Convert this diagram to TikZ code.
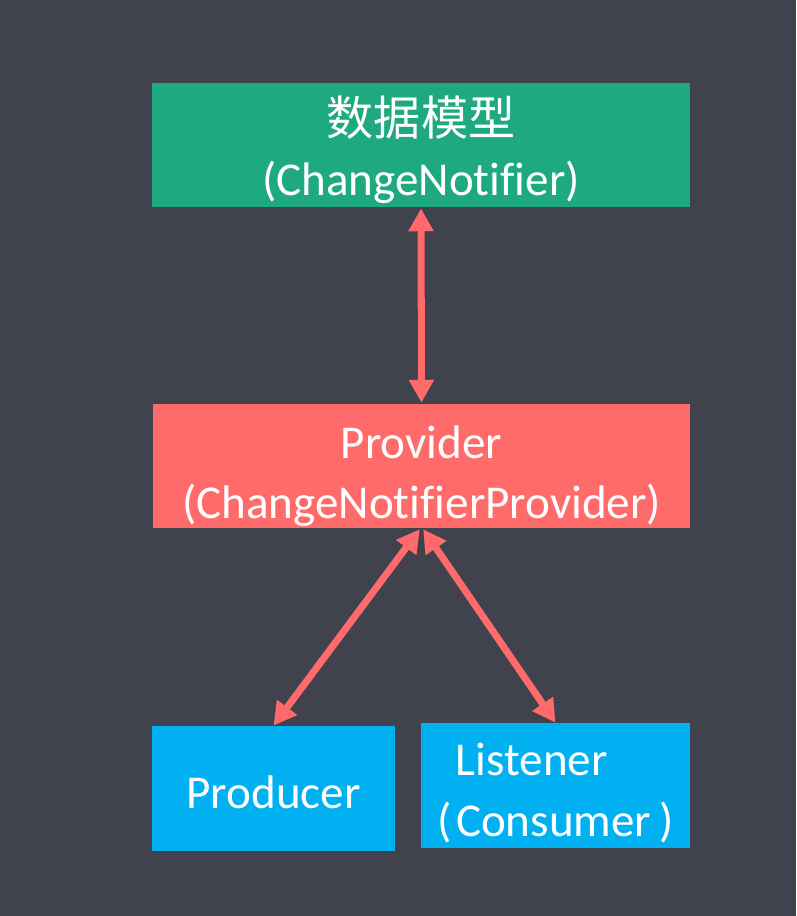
\documentclass[tikz,border=0pt]{standalone}
\usepackage{fontspec}
\setmainfont{Carlito}[Ligatures=NoCommon]
\newfontfamily\cjk{Noto Sans CJK SC}
\usetikzlibrary{arrows.meta}

\definecolor{bgdark}{HTML}{40424E}
\definecolor{modelgreen}{HTML}{1FA97F}
\definecolor{providerred}{HTML}{FF6B6B}
\definecolor{clientblue}{HTML}{00B0F0}

% empty room above the first line, pushes the text down in its box
\newcommand{\topgap}[1]{\rule{0pt}{#1}}

\tikzset{
  box/.style={inner sep=0pt, text=white, align=center,
    font=\fontsize{26.8}{34.5}\selectfont},
  link/.style={providerred, line width=4pt,
    {Triangle[width=13.6pt,length=13pt]}-{Triangle[width=13.6pt,length=13pt]}}
}

\begin{document}
\begin{tikzpicture}[x=0.02cm,y=-0.02cm]

        \fill[bgdark] (0,0) rectangle (796,916);

        \node[box, fill=modelgreen, minimum width=10.76cm, minimum height=2.48cm] (model) at (421,145) {\topgap{28pt}{\cjk 数据模型}\\(ChangeNotifier)}; % data model
        \node[box, fill=providerred, minimum width=10.74cm, minimum height=2.48cm] (provider) at (421.5,466) {\topgap{30pt}Provider\\(ChangeNotifierProvider)};
        \node[box, fill=clientblue, minimum width=4.86cm, minimum height=2.5cm] (producer) at (273.5,788.5) {\topgap{23pt}Producer};
        \node[box, fill=clientblue, minimum width=5.38cm, minimum height=2.5cm, align=left] (listener) at (555.5,785.5) {\topgap{27pt}\kern10.5pt Listener\\(\kern2.5pt Consumer\kern4.5pt)};

        \draw[link, shorten <=0.6pt, shorten >=0.6pt] (model.south) -- (provider.north);
        \draw[link, shorten <=0.6pt] ([xshift=-0.6pt]provider.south) -- (producer.north);
        \draw[link, shorten <=0.6pt] ([xshift=0.6pt]provider.south) -- (listener.north);

\end{tikzpicture}
\end{document}
